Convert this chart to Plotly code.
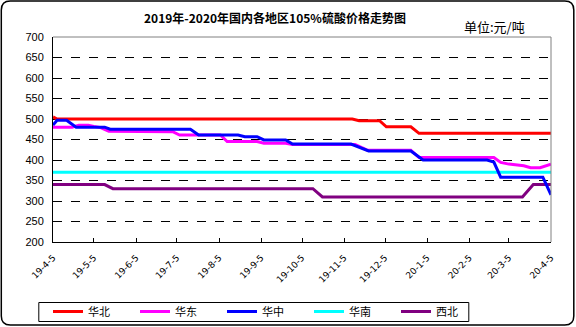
import plotly.graph_objects as go

# ---- data ----
north_dates = ["2019-04-05", "2019-04-08", "2019-11-11", "2019-11-16", "2019-12-01", "2019-12-06",
               "2019-12-24", "2019-12-30", "2020-04-05"]
north_vals = [505, 500, 500, 496, 496, 481, 481, 465, 465]

east_dates = ["2019-04-05", "2019-04-19", "2019-04-24", "2019-05-01", "2019-05-05", "2019-05-10",
              "2019-05-16", "2019-07-02", "2019-07-07", "2019-08-06", "2019-08-11", "2019-09-02",
              "2019-09-07", "2019-09-23", "2019-09-28", "2019-11-13", "2019-11-18", "2019-11-22",
              "2019-12-24", "2019-12-30", "2020-02-23", "2020-02-28", "2020-03-05", "2020-03-16",
              "2020-03-21", "2020-03-28", "2020-04-05"]
east_vals = [480, 480, 485, 485, 482, 479, 470, 469, 461, 461, 445, 445, 441, 441, 438, 438, 430, 424,
             424, 406, 406, 394, 390, 386, 381, 381, 390]

central_dates = ["2019-04-05", "2019-04-08", "2019-04-15", "2019-04-22", "2019-05-13", "2019-05-17",
                 "2019-07-15", "2019-07-21", "2019-08-19", "2019-08-24", "2019-09-02", "2019-09-07",
                 "2019-09-23", "2019-09-28", "2019-11-10", "2019-11-23", "2019-12-24", "2020-01-02",
                 "2020-02-18", "2020-02-23", "2020-02-28", "2020-03-30", "2020-04-05"]
central_vals = [485, 497, 497, 480, 480, 475, 475, 461, 461, 457, 457, 449, 449, 439, 439, 422, 422,
                400, 400, 395, 358, 358, 315]

south_dates = ["2019-04-05", "2020-04-05"]
south_vals = [370, 370]

west_dates = ["2019-04-05", "2019-05-13", "2019-05-19", "2019-10-13", "2019-10-20", "2020-03-15",
              "2020-03-23", "2020-04-05"]
west_vals = [340, 340, 330, 330, 310, 310, 340, 340]

tick_dates = ["2019-04-05", "2019-05-05", "2019-06-05", "2019-07-05", "2019-08-05", "2019-09-05",
              "2019-10-05", "2019-11-05", "2019-12-05", "2020-01-05", "2020-02-05", "2020-03-05",
              "2020-04-05"]
tick_labels = ["19-4-5", "19-5-5", "19-6-5", "19-7-5", "19-8-5", "19-9-5", "19-10-5", "19-11-5",
               "19-12-5", "20-1-5", "20-2-5", "20-3-5", "20-4-5"]
y_ticks = [200, 250, 300, 350, 400, 450, 500, 550, 600, 650, 700]

series = [
    ("华北", north_dates, north_vals, "#FF0000"),
    ("华东", east_dates, east_vals, "#FF00FF"),
    ("华中", central_dates, central_vals, "#0000FF"),
    ("华南", south_dates, south_vals, "#00FFFF"),
    ("西北", west_dates, west_vals, "#800080"),
]
draw_order = [3, 4, 0, 1, 2]

fig = go.Figure()
for i in draw_order:
    name, xs, ys, col = series[i]
    fig.add_trace(go.Scatter(x=xs, y=ys, name=name, mode="lines", legendrank=i,
                             line=dict(color=col, width=3)))

W, H = 576, 327
L, R, T, B = 52.7, 550.7, 37, 242

def px(x):
    return (x - L) / (R - L)

def py(y):
    return (B - y) / (B - T)

fig.update_layout(
    width=W, height=H,
    margin=dict(l=L, r=W - R, t=T, b=H - B, autoexpand=False),
    paper_bgcolor="white", plot_bgcolor="white",
    font=dict(family="Noto Sans CJK SC", color="black", size=11),
    showlegend=True,
    legend=dict(orientation="h", xref="container", yref="container",
                x=48 / W, y=1 - 311.5 / H, xanchor="left", yanchor="middle",
                borderwidth=0, entrywidth=42, entrywidthmode="pixels",
                traceorder="normal", font=dict(size=11, family="Noto Sans CJK SC"),
                itemwidth=30, tracegroupgap=0, bgcolor="rgba(0,0,0,0)"),
    annotations=[
        dict(text="<b>2019年-2020年国内各地区105%硫酸价格走势图</b>", x=px(275), y=py(18),
             xref="paper", yref="paper", showarrow=False, xanchor="center", yanchor="middle",
             font=dict(size=12, family="Noto Sans CJK SC")),
        dict(text="单位:元/吨", x=px(462), y=py(27), xref="paper", yref="paper",
             showarrow=False, xanchor="left", yanchor="middle",
             font=dict(size=13, family="Noto Sans CJK SC")),
    ],
)

fig.update_xaxes(type="date", range=["2019-04-05", "2020-04-05"], tickvals=tick_dates,
                 ticktext=tick_labels, tickangle=-45, showgrid=False, ticks="inside",
                 ticklen=4, tickcolor="black", showline=True, linecolor="black", linewidth=1,
                 tickfont=dict(size=9, family="DejaVu Sans"), zeroline=False,
                 ticklabelstandoff=6, automargin=False)
fig.update_yaxes(range=[200, 700], tickvals=y_ticks, showgrid=True, gridcolor="black",
                 griddash="dash", gridwidth=1, showline=True, linecolor="black", linewidth=1,
                 ticks="", tickfont=dict(size=11, family="Liberation Sans"), zeroline=False,
                 ticklabelstandoff=6, automargin=False)

# top and right border of plot area (gray)
fig.add_shape(type="line", xref="paper", yref="paper", x0=0, x1=1, y0=1, y1=1,
              line=dict(color="#808080", width=1), layer="above")
fig.add_shape(type="line", xref="paper", yref="paper", x0=1, x1=1, y0=0, y1=1,
              line=dict(color="#808080", width=1), layer="above")

# legend box
fig.add_shape(type="rect", xref="paper", yref="paper", x0=px(38.5), x1=px(468.5),
              y0=py(302.5), y1=py(321.5), line=dict(color="black", width=1), layer="above")

# outer rounded frame
x0, x1, y0, y1, r = 1, 573.5, 1, 325, 9
path = (f"M {px(x0 + r)},{py(y0)} L {px(x1 - r)},{py(y0)} "
        f"Q {px(x1)},{py(y0)} {px(x1)},{py(y0 + r)} L {px(x1)},{py(y1 - r)} "
        f"Q {px(x1)},{py(y1)} {px(x1 - r)},{py(y1)} L {px(x0 + r)},{py(y1)} "
        f"Q {px(x0)},{py(y1)} {px(x0)},{py(y1 - r)} L {px(x0)},{py(y0 + r)} "
        f"Q {px(x0)},{py(y0)} {px(x0 + r)},{py(y0)} Z")
fig.add_shape(type="path", xref="paper", yref="paper", path=path,
              line=dict(color="black", width=1.5), layer="above")

fig.write_html("out.html")
